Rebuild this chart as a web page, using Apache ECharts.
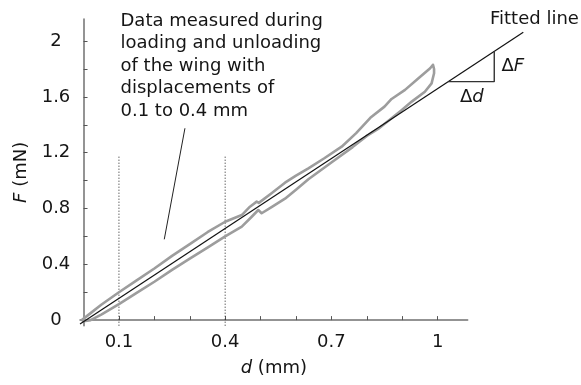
<!DOCTYPE html>
<html><head><meta charset="utf-8">
<script src="https://cdn.jsdelivr.net/npm/echarts@6/dist/echarts.min.js"></script>
<style>html,body{margin:0;padding:0;background:#fff}#c{width:581px;height:385px}</style>
</head><body><div id="c"></div>
<script>
// ---- data ----
const xTickValues = [0.1, 0.2, 0.3, 0.4, 0.5, 0.6, 0.7, 0.8, 0.9, 1.0];
const xLabelValues = [0.1, 0.4, 0.7, 1];
const yTickValues = [0, 0.2, 0.4, 0.6, 0.8, 1.0, 1.2, 1.4, 1.6, 1.8, 2.0];
const yLabelValues = [0, 0.4, 0.8, 1.2, 1.6, 2];

// measured loop: loading branch (lower) out to the tip, unloading branch (upper) back
const loopX = [-0.005, 0.02, 0.05, 0.10, 0.15, 0.20, 0.25, 0.30, 0.35, 0.40, 0.447, 0.475, 0.4935, 0.503, 0.531, 0.569, 0.60, 0.635, 0.70, 0.76, 0.80, 0.832, 0.870, 0.899, 0.927, 0.964, 0.983, 0.990, 0.990, 0.987,
               0.979, 0.946, 0.908, 0.870, 0.850, 0.810, 0.770, 0.729, 0.680, 0.635, 0.600, 0.569, 0.531, 0.495, 0.489, 0.470, 0.447, 0.40, 0.35, 0.30, 0.25, 0.20, 0.15, 0.10, 0.05, 0.02, -0.005];
const loopY = [-0.01, 0.0, 0.04, 0.115, 0.195, 0.275, 0.36, 0.44, 0.52, 0.60, 0.67, 0.741, 0.789, 0.766, 0.81, 0.87, 0.935, 1.01, 1.13, 1.24, 1.32, 1.37, 1.447, 1.506, 1.566, 1.637, 1.697, 1.769, 1.80, 1.83,
               1.805, 1.733, 1.65, 1.585, 1.53, 1.45, 1.34, 1.243, 1.16, 1.088, 1.035, 0.985, 0.909, 0.84, 0.849, 0.813, 0.753, 0.705, 0.63, 0.545, 0.46, 0.37, 0.285, 0.20, 0.11, 0.05, 0.0];

const fitX = [-0.01, 1.242];
const fitY = [-0.028, 2.063];
const guideX = [0.1, 0.4];
const guideY = [-0.04, 1.18];
const pointerX = [0.2864, 0.228];
const pointerY = [1.375, 0.579];
const triX = [1.030, 1.160, 1.160];
const triY = [1.709, 1.709, 1.924];

const annotationLines = ['Data measured during', 'loading and unloading', 'of the wing with', 'displacements of', '0.1 to 0.4 mm'];
const fittedLabel = 'Fitted line';

// ---- chart ----
const FONT = 'DejaVu Sans';
const TXT = '#151515';
const X_MIN = -0.01, X_MAX = 1.085, Y_MIN = -0.04, Y_MAX = 2.158;
const GRID_LEFT = 80, GRID_RIGHT = 113.3, GRID_TOP = 19, GRID_BOTTOM = 59.3;
// an overlay grid with the same scale, extended to the right so the fitted line and triangle are not cut
const X_MAX2 = 1.30;
const pxPerX = (581 - GRID_LEFT - GRID_RIGHT) / (X_MAX - X_MIN);
const GRID2_RIGHT = 581 - GRID_LEFT - pxPerX * (X_MAX2 - X_MIN);

const zip = (a, b) => a.map((v, i) => [v, b[i]]);
const chart = echarts.init(document.getElementById('c'), null, {renderer: 'canvas'});
const tickStyle = {show: true, inside: true, length: 4, lineStyle: {color: '#555', width: 1}};
const lineStyleAxis = {show: true, lineStyle: {color: '#707070', width: 1.5}};
const nameStyle = {color: TXT, fontSize: 18, fontFamily: FONT, rich: {i: {fontStyle: 'italic', fontSize: 18, fontFamily: FONT, color: TXT}}};
chart.setOption({
  animation: false,
  backgroundColor: '#fff',
  grid: [
    {left: GRID_LEFT, right: GRID_RIGHT, top: GRID_TOP, bottom: GRID_BOTTOM},
    {left: GRID_LEFT, right: GRID2_RIGHT, top: GRID_TOP, bottom: GRID_BOTTOM}
  ],
  xAxis: [
    {
      type: 'value', gridIndex: 0, min: X_MIN, max: X_MAX,
      axisLine: lineStyleAxis, splitLine: {show: false},
      axisTick: Object.assign({}, tickStyle, {customValues: xTickValues}),
      axisLabel: {customValues: xLabelValues, margin: 8, color: TXT, fontSize: 18, fontFamily: FONT, formatter: v => String(v)},
      name: '{i|d} (mm)', nameLocation: 'middle', nameGap: 34, nameTextStyle: nameStyle
    },
    {type: 'value', gridIndex: 1, min: X_MIN, max: X_MAX2, show: false}
  ],
  yAxis: [
    {
      type: 'value', gridIndex: 0, min: Y_MIN, max: Y_MAX,
      axisLine: lineStyleAxis, splitLine: {show: false},
      axisTick: Object.assign({}, tickStyle, {customValues: yTickValues}),
      axisLabel: {customValues: yLabelValues, margin: 24, align: 'center', color: TXT, fontSize: 18, fontFamily: FONT, formatter: v => String(v)},
      name: '{i|F} (mN)', nameLocation: 'middle', nameGap: 49, nameRotate: 90, nameTextStyle: nameStyle
    },
    {type: 'value', gridIndex: 1, min: Y_MIN, max: Y_MAX, show: false}
  ],
  series: [
    {type: 'line', xAxisIndex: 0, yAxisIndex: 0, data: zip(loopX, loopY), showSymbol: false, symbol: 'none', lineStyle: {color: '#9d9d9d', width: 2.6, join: 'round'}, z: 2},
    {type: 'line', xAxisIndex: 1, yAxisIndex: 1, data: zip(fitX, fitY), showSymbol: false, symbol: 'none', lineStyle: {color: '#111', width: 1.2}, z: 3},
    {type: 'line', xAxisIndex: 0, yAxisIndex: 0, data: zip([guideX[0], guideX[0]], guideY), showSymbol: false, symbol: 'none', lineStyle: {color: '#222', width: 1, type: [1, 2]}, z: 1},
    {type: 'line', xAxisIndex: 0, yAxisIndex: 0, data: zip([guideX[1], guideX[1]], guideY), showSymbol: false, symbol: 'none', lineStyle: {color: '#222', width: 1, type: [1, 2]}, z: 1},
    {type: 'line', xAxisIndex: 0, yAxisIndex: 0, data: zip(pointerX, pointerY), showSymbol: false, symbol: 'none', lineStyle: {color: '#222', width: 1}, z: 3},
    {type: 'line', xAxisIndex: 1, yAxisIndex: 1, data: zip(triX, triY), showSymbol: false, symbol: 'none', lineStyle: {color: '#333', width: 1.4}, z: 3}
  ],
  graphic: [
    {type: 'text', x: 120.5, y: 66, style: {text: annotationLines.join('\n'), font: '18px "DejaVu Sans"', fill: TXT, lineHeight: 22.5, align: 'left', verticalAlign: 'middle'}},
    {type: 'text', x: 490, y: 19.5, style: {text: fittedLabel, font: '18px "DejaVu Sans"', fill: TXT, align: 'left', verticalAlign: 'middle'}},
    {type: 'text', x: 501.5, y: 66.5, style: {text: '{n|Δ}{i|F}', font: '18px "DejaVu Sans"', fill: TXT, align: 'left', verticalAlign: 'middle',
      rich: {n: {fontSize: 18, fontFamily: FONT, fill: TXT}, i: {fontSize: 18, fontFamily: FONT, fontStyle: 'italic', fill: TXT}}}},
    {type: 'text', x: 460, y: 97, style: {text: '{n|Δ}{i|d}', font: '18px "DejaVu Sans"', fill: TXT, align: 'left', verticalAlign: 'middle',
      rich: {n: {fontSize: 18, fontFamily: FONT, fill: TXT}, i: {fontSize: 18, fontFamily: FONT, fontStyle: 'italic', fill: TXT}}}}
  ]
});
</script></body></html>
